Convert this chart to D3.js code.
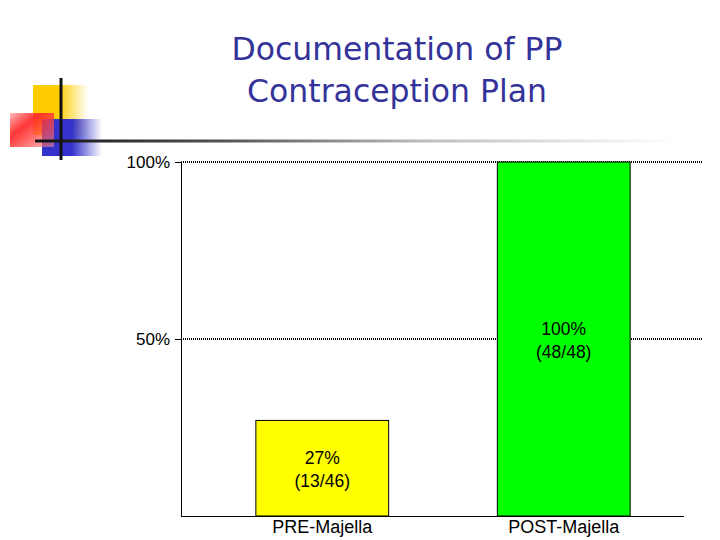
<!DOCTYPE html>
<html>
<head>
<meta charset="utf-8">
<script src="https://cdn.jsdelivr.net/npm/d3@7"></script>
<style>
  body { margin: 0; background: #fff; }
  svg { display: block; }
</style>
</head>
<body>
<div id="chart"></div>
<script>
// Chart data
const categories = ['PRE-Majella', 'POST-Majella'];
const values = [27, 100];
const valueLabels = ['27%', '100%'];
const countLabels = ['(13/46)', '(48/48)'];
const barColors = ['#ffff00', '#00ff00'];
const tickValues = [50, 100];
const tickLabels = ['50%', '100%'];
const titleLines = ['Documentation of PP', 'Contraception Plan'];

const width = 720;
const height = 540;

const svg = d3
  .select('#chart')
  .append('svg')
  .attr('width', width)
  .attr('height', height);

// Gradients for the slide decoration
const defs = svg.append('defs');
function grad(id, x2, y2, stops) {
  const g = defs.append('linearGradient').attr('id', id)
    .attr('x1', 0).attr('y1', 0).attr('x2', x2).attr('y2', y2);
  stops.forEach((s) => g.append('stop').attr('offset', s[0]).attr('stop-color', s[1]).attr('stop-opacity', s[2]));
}
grad('gYellow', 1, 0, [[0, '#ffcc00', 1], [0.45, '#ffcc00', 1], [1, '#ffcc00', 0]]);
grad('gBlue', 1, 0, [[0, '#3333cc', 1], [0.5, '#3333cc', 1], [1, '#3333cc', 0]]);
grad('gRed', 1, 1, [[0, '#ff0000', 0.25], [0.35, '#ff2020', 0.9], [1, '#ff0000', 0.2]]);
grad('gLine', 1, 0, [[0, '#111111', 1], [0.3, '#555555', 1], [0.6, '#bbbbbb', 1], [1, '#ffffff', 1]]);

// Decoration
const deco = svg.append('g');
deco.append('rect').attr('x', 33).attr('y', 85).attr('width', 55).attr('height', 50).attr('fill', 'url(#gYellow)');
deco.append('rect').attr('x', 42).attr('y', 119).attr('width', 60).attr('height', 37).attr('fill', 'url(#gBlue)');
deco.append('rect').attr('x', 10).attr('y', 113).attr('width', 44).attr('height', 34).attr('fill', '#fff').attr('opacity', 0.4);
deco.append('rect').attr('x', 10).attr('y', 113).attr('width', 44).attr('height', 34).attr('fill', 'url(#gRed)');
deco.append('rect').attr('x', 35).attr('y', 139.5).attr('width', 640).attr('height', 3).attr('fill', 'url(#gLine)');
deco.append('rect').attr('x', 59.5).attr('y', 78).attr('width', 3).attr('height', 82).attr('fill', '#111');

// Title
svg
  .append('g')
  .selectAll('text')
  .data(titleLines)
  .enter()
  .append('text')
  .attr('x', 397)
  .attr('y', (d, i) => 60 + i * 42)
  .attr('text-anchor', 'middle')
  .attr('fill', '#333399')
  .style('font-family', 'DejaVu Sans, sans-serif')
  .style('font-size', '31.5px')
  .text((d) => d);

// Scales
const x = d3.scaleBand().domain(categories).range([181, 705]).paddingInner(0.45).paddingOuter(0.31);
const y = d3.scaleLinear().domain([0, 100]).range([516, 162]);

const font = 'Liberation Sans, Arial, sans-serif';

// Gridlines (dotted)
svg
  .append('g')
  .selectAll('line')
  .data(tickValues)
  .enter()
  .append('line')
  .attr('x1', 181)
  .attr('x2', 703)
  .attr('y1', (d) => y(d))
  .attr('y2', (d) => y(d))
  .attr('stroke', '#000')
  .attr('stroke-width', 2)
  .attr('stroke-dasharray', '1,1');

// Bars
svg
  .append('g')
  .selectAll('rect')
  .data(values)
  .enter()
  .append('rect')
  .attr('x', (d, i) => x(categories[i]))
  .attr('y', (d) => y(d))
  .attr('width', x.bandwidth())
  .attr('height', (d) => y(0) - y(d))
  .attr('fill', (d, i) => barColors[i])
  .attr('stroke', '#000')
  .attr('stroke-width', 1);

// Bar labels
const labels = svg.append('g').selectAll('g').data(values).enter().append('g');
labels
  .append('text')
  .attr('x', (d, i) => x(categories[i]) + x.bandwidth() / 2)
  .attr('y', (d) => (y(d) + y(0)) / 2 - 4)
  .attr('text-anchor', 'middle')
  .style('font-family', font)
  .style('font-size', '17.5px')
  .text((d, i) => valueLabels[i]);
labels
  .append('text')
  .attr('x', (d, i) => x(categories[i]) + x.bandwidth() / 2)
  .attr('y', (d) => (y(d) + y(0)) / 2 + 19)
  .attr('text-anchor', 'middle')
  .style('font-family', font)
  .style('font-size', '17.5px')
  .text((d, i) => countLabels[i]);

// Y axis
const yAxis = svg
  .append('g')
  .attr('transform', 'translate(181,0)')
  .call(d3.axisLeft(y).tickValues(tickValues).tickFormat((d, i) => tickLabels[i]).tickSize(6).tickSizeOuter(0));
yAxis.select('.domain').attr('stroke-width', 1);
yAxis.selectAll('text').style('font-family', font).style('font-size', '17px').attr('fill', '#000').attr('x', -11);

// X axis line
svg
  .append('line')
  .attr('x1', 181)
  .attr('x2', 684)
  .attr('y1', y(0) + 0.5)
  .attr('y2', y(0) + 0.5)
  .attr('stroke', '#000');

// Category labels
svg
  .append('g')
  .selectAll('text')
  .data(categories)
  .enter()
  .append('text')
  .attr('x', (d) => x(d) + x.bandwidth() / 2)
  .attr('y', 533)
  .attr('text-anchor', 'middle')
  .style('font-family', font)
  .style('font-size', '18px')
  .text((d) => d);
</script>
</body>
</html>
